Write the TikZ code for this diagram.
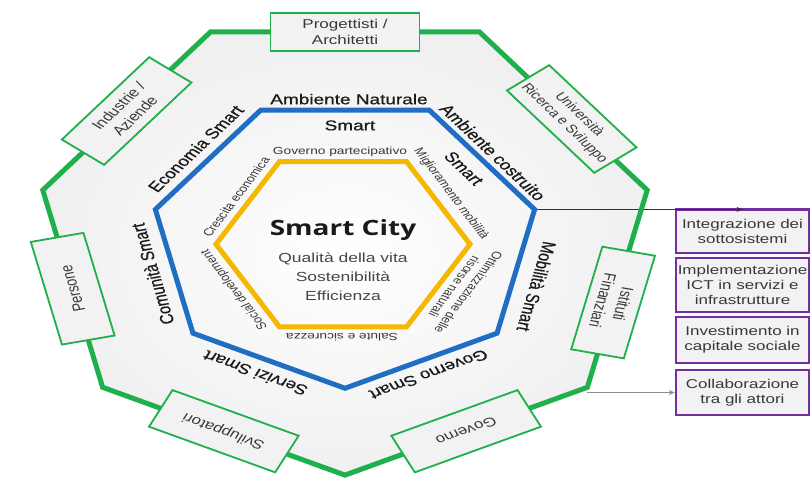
\documentclass[tikz,border=0pt]{standalone}
\usepackage{fontspec}
\setmainfont{Liberation Sans}
\newfontfamily\titlefont{Open Sans}
\newfontfamily\labfont[FakeBold=0.6]{Liberation Sans}
\usetikzlibrary{calc,arrows.meta}
\definecolor{gline}{HTML}{1FAF4B}
\definecolor{bline}{HTML}{1F6EC4}
\definecolor{yline}{HTML}{F6B700}
\definecolor{pline}{HTML}{7030A0}
\definecolor{boxfill}{HTML}{F2F2F2}
\definecolor{txtdark}{HTML}{1A1A1A}
\definecolor{txtmid}{HTML}{383838}
\tikzset{
  gbox/.style={draw=gline, line width=1.8pt, fill=boxfill, minimum width=140pt, minimum height=54pt, inner sep=1pt, align=center, text=txtmid, font=\fontsize{17}{21}\selectfont},
  pbox/.style={draw=pline, line width=2.6pt, fill=boxfill, minimum width=133pt, inner sep=1pt, align=center, text=txtmid, font=\fontsize{17}{20.5}\selectfont},
  blab/.style={text=txtdark, font=\labfont\fontsize{19}{23}\selectfont, inner sep=0pt},
  ylab/.style={text=txtmid, font=\fontsize{13.7}{16}\selectfont, inner sep=0pt, align=center},
  conn/.style={line width=0.8pt, -{Stealth[length=6pt,width=5pt]}},
}
\begin{document}
\begin{tikzpicture}[x=1pt,y=1pt,yscale=0.752,transform shape]
\useasboundingbox (-345,-317.8) rectangle (467,321.8);
\foreach \i/\a in {1/115.714,2/64.286,3/12.857,4/-38.571,5/-90,6/-141.429,7/167.143}{
  \coordinate (g\i) at (\a:310);
  \coordinate (b\i) at (\a:194.5);
}
\coordinate (yc) at (-2,-3);
\foreach \i/\a in {1/120,2/60,3/0,4/-60,5/-120,6/180}{
  \coordinate (y\i) at ($(yc)+(\a:127)$);
}
% background
\shade[inner color=white, outer color=black!6] (g1)--(g2)--(g3)--(g4)--(g5)--(g6)--(g7)--cycle;
% purple boxes
\node[pbox, minimum height=57.9pt] (p1) at (397.5,14.35) {Integrazione dei\\sottosistemi};
\node[pbox, minimum height=71.8pt] (p2) at (397.5,-57.2) {Implementazione\\ICT in servizi e\\infrastrutture};
\node[pbox, minimum height=61.2pt] (p3) at (397.5,-130.3) {Investimento in\\capitale sociale};
\node[pbox, minimum height=59.9pt] (p4) at (397.5,-200.15) {Collaborazione\\tra gli attori};
% connectors
\draw[conn, black!80] (b3) -- (b3 -| p1.north);
\draw[conn, black!45] (g4 |- p4.west) -- (p4.west);
% polygons
\draw[gline, line width=5pt] (g1)--(g2)--(g3)--(g4)--(g5)--(g6)--(g7)--cycle;
\draw[bline, line width=5pt] (b1)--(b2)--(b3)--(b4)--(b5)--(b6)--(b7)--cycle;
\draw[yline, line width=5pt] (y1)--(y2)--(y3)--(y4)--(y5)--(y6)--cycle;
% green boxes
\node[gbox, minimum width=149pt, minimum height=50pt] (prog) at ($(g1)!0.5!(g2)$) {Progettisti /\\Architetti};
\node[gbox, rotate=-51.43, font=\fontsize{15.5}{19}\selectfont] (univ) at ($(g2)!0.55!(g3)$) {Università\\Ricerca e Sviluppo};
\node[gbox, rotate=-102.86] (ist) at ($(g3)!0.57!(g4)$) {Istituti\\Finanziari};
\node[gbox, rotate=-154.29] (gov) at ($(g4)!0.5!(g5)$) {Governo};
\node[gbox, rotate=154.29] (svil) at ($(g5)!0.5!(g6)$) {Sviluppatori};
\node[gbox, rotate=102.86] (pers) at ($(g6)!0.5!(g7)$) {Persone};
\node[gbox, rotate=51.43] (ind) at ($(g7)!0.5!(g1)$) {Industrie /\\Aziende};
% blue labels
\node[blab] (lan) at ($(90:190)+(0:4)$) {Ambiente Naturale};
\node[blab] (lans) at ($(90:155)+(0:5)$) {Smart};
\node[blab, rotate=-51.43] (lac) at ($(38.571:190)+(-51.43:-1)$) {Ambiente costruito};
\node[blab, rotate=-51.43] (lacs) at ($(38.571:154)+(-51.43:-2.5)$) {Smart};
\node[blab, rotate=-102.86] (lmob) at ($(-12.857:200)+(-102.86:15)$) {Mobilità Smart};
\node[blab, rotate=-154.29] (lgov) at ($(-64.286:195)+(-154.29:1)$) {Governo Smart};
\node[blab, rotate=154.29] (lser) at ($(-115.714:196)+(154.29:5)$) {Servizi Smart};
\node[blab, rotate=102.86] (lcom) at ($(-167.143:197)+(102.86:1.5)$) {Comunità Smart};
\node[blab, rotate=51.43] (leco) at ($(141.429:194)+(51.43:4)$) {Economia Smart};
% yellow labels
\node[ylab] (ygp) at ($(yc)+(90:123)+(0:-3)$) {Governo partecipativo};
\node[ylab, rotate=-60] (ymm) at ($(yc)+(30:127)+(-60:-4)$) {Miglioramento mobilità};
\node[ylab, rotate=-120] (yott) at ($(yc)+(-30:133)+(-120:-7)$) {Ottimizzazione delle\\risorse naturali};
\node[ylab, rotate=180] (ysal) at ($(yc)+(-90:124)+(180:1)$) {Salute e sicurezza};
\node[ylab, rotate=120] (ysoc) at ($(yc)+(-150:124)+(120:2)$) {Social development};
\node[ylab, rotate=60] (ycre) at ($(yc)+(150:124)+(60:1)$) {Crescita economica};
% centre
\node[font=\titlefont\bfseries\fontsize{28}{32}\selectfont, text=txtdark] (sc) at (-2,16) {Smart City};
\node[font=\fontsize{17.5}{25}\selectfont, text=black!72, align=center] (qv) at (-2,-46.5) {Qualità della vita\\Sostenibilità\\Efficienza};
\end{tikzpicture}
\end{document}
